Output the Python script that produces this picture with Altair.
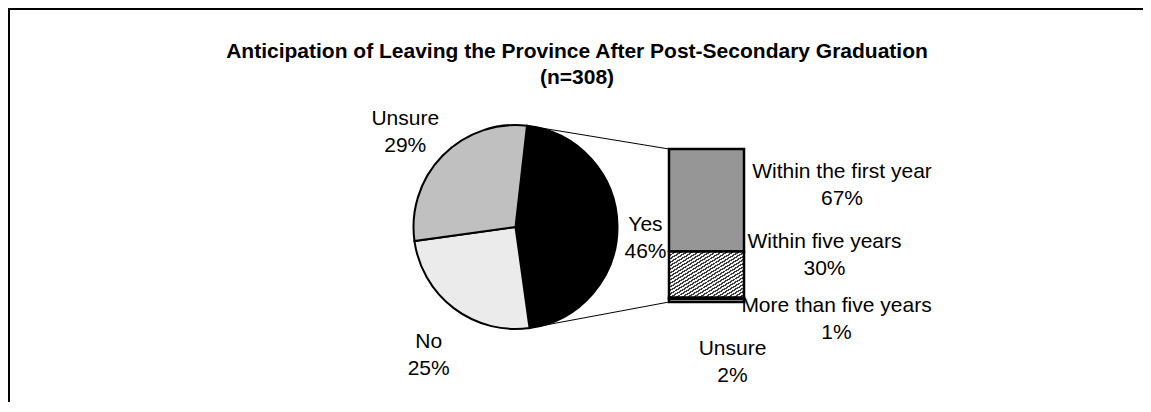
import math
import altair as alt
import pandas as pd

# ---------------- data ----------------
title_lines = ["Anticipation of Leaving the Province After Post-Secondary Graduation", "(n=308)"]
pie_labels = ["Yes", "No", "Unsure"]
pie_values = [46, 25, 29]
bar_labels = ["Within the first year", "Within five years", "More than five years", "Unsure"]
bar_values = [67, 30, 1, 2]

# ---------------- layout / style ----------------
W, H = 1135, 394
FONT = "Liberation Sans"
FS = 21
LH = 27
CX, CY, R = 507.5, 219, 102
START = 0.113  # rotation of first slice (radians, clockwise from 12 o'clock)
BAR_X0, BAR_X1, BAR_Y0, BAR_Y1 = 661, 736, 141, 294
PIE_LABEL_RADIUS = {"Yes": 130, "No": 144, "Unsure": 154}
BAR_LABEL_POS = {
    "Within the first year": (834, 164),
    "Within five years": (816.5, 234),
    "More than five years": (828.5, 298),
    "Unsure": (724.5, 341),
}
PIE_COLORS = ["#000000", "#ebebeb", "#c0c0c0"]
BAR_COLORS = ["#969696", "#a0a0a0", "#000000", "#ffffff"]

# ---------------- tables ----------------
pie_df = pd.DataFrame({"answer": pie_labels, "pct": pie_values, "order": list(range(len(pie_labels)))})
pie_df["mid"] = pie_df["pct"].cumsum() - pie_df["pct"] / 2
pie_df["label"] = [f"{a}\n{v}%" for a, v in zip(pie_labels, pie_values)]
pie_df["r"] = [PIE_LABEL_RADIUS[a] for a in pie_labels]

bar_df = pd.DataFrame({"timing": bar_labels, "pct": bar_values, "order": list(range(len(bar_labels)))})
bar_df["end"] = bar_df["pct"].cumsum()
bar_df["start"] = bar_df["end"] - bar_df["pct"]
bar_df["label"] = [f"{t}\n{v}%" for t, v in zip(bar_labels, bar_values)]
bar_df["lx"] = [BAR_LABEL_POS[t][0] for t in bar_labels]
bar_df["ly"] = [BAR_LABEL_POS[t][1] for t in bar_labels]

total = sum(pie_values)
theta_scale = alt.Scale(domain=[0, total], range=[START, START + 2 * math.pi])

one = pd.DataFrame({"a": [0]})

# ---------------- frame (left and top edges; the rest lies outside the picture) ----------------
frame_left = alt.Chart(one).mark_rule(color="black", strokeWidth=2).encode(
    x=alt.value(1), y=alt.value(0), y2=alt.value(H))
frame_top = alt.Chart(one).mark_rule(color="black", strokeWidth=2).encode(
    x=alt.value(0), x2=alt.value(W), y=alt.value(1))

# ---------------- title ----------------
title = alt.Chart(pd.DataFrame({"t": ["\n".join(title_lines)]})).mark_text(
    font=FONT, fontSize=21, fontWeight="bold", lineBreak="\n", lineHeight=26,
    align="center", baseline="middle", color="black"
).encode(text="t:N", x=alt.value(569), y=alt.value(43.5))

# ---------------- connectors ----------------
a0 = START
a1 = START + pie_values[0] / total * 2 * math.pi
p0 = (CX + R * math.sin(a0), CY - R * math.cos(a0))
p1 = (CX + R * math.sin(a1), CY - R * math.cos(a1))
conn_top = alt.Chart(one).mark_rule(color="black", strokeWidth=1).encode(
    x=alt.value(p0[0]), y=alt.value(p0[1]), x2=alt.value(BAR_X0), y2=alt.value(BAR_Y0))
conn_bot = alt.Chart(one).mark_rule(color="black", strokeWidth=1).encode(
    x=alt.value(p1[0]), y=alt.value(p1[1]), x2=alt.value(BAR_X0), y2=alt.value(BAR_Y1))

# ---------------- pie ----------------
pie = alt.Chart(pie_df).mark_arc(radius=R, stroke="black", strokeWidth=2).encode(
    theta=alt.Theta("pct:Q", stack=True, scale=theta_scale),
    order=alt.Order("order:Q"),
    fill=alt.Fill("answer:N", scale=alt.Scale(domain=pie_labels, range=PIE_COLORS), legend=None),
    x=alt.value(CX), y=alt.value(CY),
)

pie_text = alt.Chart(pie_df).mark_text(
    font=FONT, fontSize=FS, lineBreak="\n", lineHeight=LH, align="center",
    baseline="middle", color="black"
).encode(
    theta=alt.Theta("mid:Q", stack=None, scale=theta_scale),
    radius=alt.Radius("r:Q", scale=None),
    text="label:N",
    x=alt.value(CX), y=alt.value(CY),
)

# ---------------- bar labels ----------------
bar_text = alt.Chart(bar_df).mark_text(
    font=FONT, fontSize=FS, lineBreak="\n", lineHeight=LH, align="center",
    baseline="middle", color="black"
).encode(
    x=alt.X("lx:Q", scale=None), y=alt.Y("ly:Q", scale=None), text="label:N"
)

# ---------------- stacked bar ----------------
yscale = alt.Scale(domain=[0, 100], range=[BAR_Y0, BAR_Y1], nice=False, zero=False)
bar_solid = alt.Chart(bar_df).transform_filter(
    f"datum.timing != '{bar_labels[1]}'"
).mark_rect(stroke="black", strokeWidth=2.5).encode(
    x=alt.value(BAR_X0), x2=alt.value(BAR_X1),
    y=alt.Y("start:Q", scale=yscale, axis=None), y2="end:Q",
    fill=alt.Fill("timing:N", scale=alt.Scale(domain=bar_labels, range=BAR_COLORS), legend=None),
)

N = 26
stops = []
for k in range(N):
    o = k / N
    stops += [
        alt.GradientStop(offset=o, color="#3a3a3a"),
        alt.GradientStop(offset=o + 0.45 / N, color="#3a3a3a"),
        alt.GradientStop(offset=o + 0.45 / N, color="#f4f4f4"),
        alt.GradientStop(offset=o + 1.0 / N, color="#f4f4f4"),
    ]
hatch = alt.LinearGradient(gradient="linear", stops=stops, x1=0, y1=0, x2=1, y2=1)

bar_hatch = alt.Chart(bar_df).transform_filter(
    f"datum.timing == '{bar_labels[1]}'"
).mark_rect(stroke="black", strokeWidth=2.5, fill=hatch).encode(
    x=alt.value(BAR_X0), x2=alt.value(BAR_X1),
    y=alt.Y("start:Q", scale=yscale, axis=None), y2="end:Q",
)

chart = alt.layer(
    frame_left, frame_top, title, conn_top, conn_bot, pie, pie_text, bar_text, bar_solid, bar_hatch
).resolve_scale(
    fill="independent"
).properties(
    width=W, height=H, autosize=alt.AutoSizeParams(type="none"), padding=0
).configure_view(stroke=None).configure(background="white")

chart.save("out.html", embed_options={"renderer": "svg", "actions": False})
